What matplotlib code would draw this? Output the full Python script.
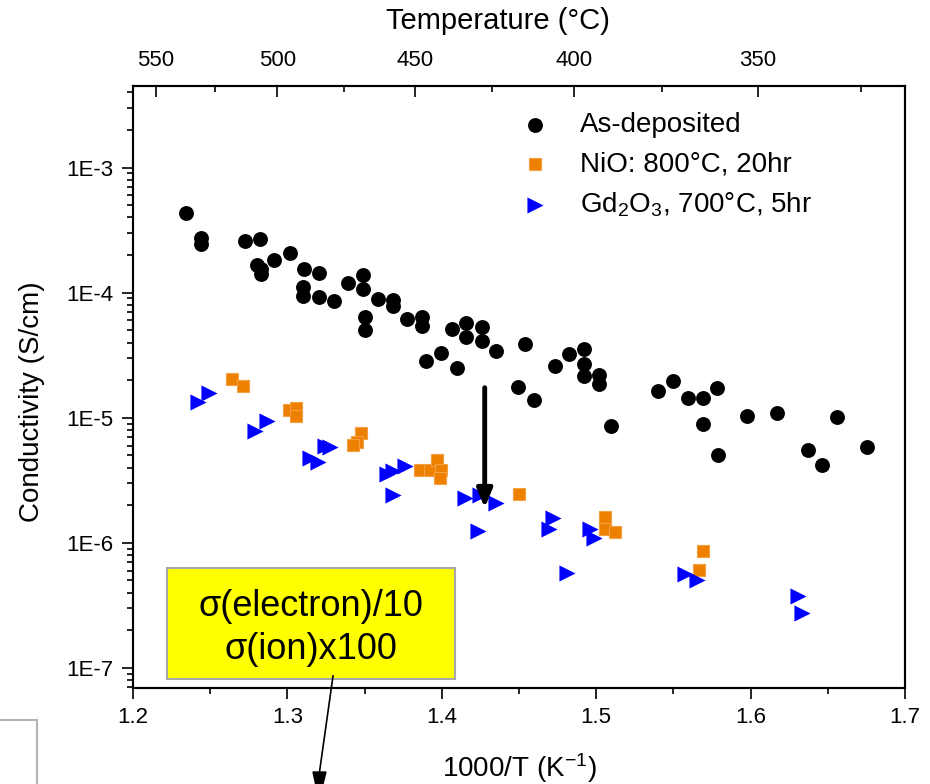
import numpy as np
import matplotlib
matplotlib.use("Agg")
import matplotlib.pyplot as plt
from matplotlib.patches import Rectangle
from matplotlib.ticker import FixedLocator, FuncFormatter, LogLocator, NullFormatter

plt.rcParams["font.family"] = ["Liberation Sans", "DejaVu Sans"]
plt.rcParams["mathtext.fontset"] = "custom"
plt.rcParams["mathtext.rm"] = "Liberation Sans"
plt.rcParams["mathtext.it"] = "Liberation Sans:italic"
plt.rcParams["mathtext.default"] = "regular"

# 1000/T (1/K) and conductivity (S/cm)
asdep_x = [1.2343, 1.2438, 1.2438, 1.2725, 1.2824, 1.2801, 1.2826, 1.2826, 1.2915, 1.3014,
           1.3107, 1.3204, 1.3102, 1.3102, 1.3204, 1.3299, 1.3394, 1.3491, 1.3491, 1.3584,
           1.3681, 1.3681, 1.3502, 1.3502, 1.3775, 1.3871, 1.3871, 1.3896, 1.3998, 1.4063,
           1.4160, 1.4160, 1.4099, 1.4263, 1.4263, 1.4350, 1.4537, 1.4496, 1.4595, 1.4731,
           1.4824, 1.4921, 1.4921, 1.4921, 1.5016, 1.5016, 1.5094, 1.5403, 1.5497, 1.5592,
           1.5689, 1.5689, 1.5784, 1.5791, 1.5979, 1.6170, 1.6369, 1.6462, 1.6559, 1.6753]
asdep_y = [4.31e-4, 2.74e-4, 2.47e-4, 2.57e-4, 2.69e-4, 1.68e-4, 1.55e-4, 1.40e-4, 1.83e-4, 2.08e-4,
           1.55e-4, 1.45e-4, 1.12e-4, 9.34e-5, 9.29e-5, 8.63e-5, 1.20e-4, 1.39e-4, 1.08e-4, 8.84e-5,
           8.68e-5, 7.87e-5, 6.40e-5, 5.06e-5, 6.19e-5, 6.34e-5, 5.47e-5, 2.82e-5, 3.27e-5, 5.09e-5,
           5.78e-5, 4.42e-5, 2.50e-5, 5.32e-5, 4.15e-5, 3.39e-5, 3.89e-5, 1.75e-5, 1.39e-5, 2.61e-5,
           3.23e-5, 3.56e-5, 2.70e-5, 2.17e-5, 2.21e-5, 1.87e-5, 8.52e-6, 1.64e-5, 1.98e-5, 1.45e-5,
           1.44e-5, 9.00e-6, 1.74e-5, 5.06e-6, 1.04e-5, 1.10e-5, 5.55e-6, 4.21e-6, 1.02e-5, 5.89e-6]

nio_x = [1.2639, 1.2710, 1.3010, 1.3055, 1.3055, 1.3474, 1.3448, 1.3426, 1.3858, 1.3922,
         1.3966, 1.3998, 1.3987, 1.4498, 1.5055, 1.5055, 1.5124, 1.5689, 1.5663]
nio_y = [2.04e-5, 1.78e-5, 1.16e-5, 1.20e-5, 1.04e-5, 7.55e-6, 6.46e-6, 6.08e-6, 3.84e-6, 3.84e-6,
         4.61e-6, 3.84e-6, 3.30e-6, 2.47e-6, 1.62e-6, 1.29e-6, 1.21e-6, 8.59e-7, 6.05e-7]

gdo_x = [1.2423, 1.2494, 1.2790, 1.2865, 1.3146, 1.3199, 1.3243, 1.3275, 1.3642, 1.3685,
         1.3760, 1.3681, 1.4149, 1.4246, 1.4348, 1.4235, 1.4720, 1.4693, 1.4958, 1.4986,
         1.4814, 1.5573, 1.5655, 1.6306, 1.6334]
gdo_y = [1.33e-5, 1.58e-5, 7.91e-6, 9.46e-6, 4.76e-6, 4.47e-6, 5.97e-6, 5.83e-6, 3.55e-6, 3.72e-6,
         4.08e-6, 2.42e-6, 2.28e-6, 2.42e-6, 2.08e-6, 1.25e-6, 1.58e-6, 1.29e-6, 1.29e-6, 1.09e-6,
         5.72e-7, 5.65e-7, 5.06e-7, 3.79e-7, 2.77e-7]

temp_major = [550, 500, 450, 400, 350]
temp_minor = [525, 475, 425, 375, 325]

fig = plt.figure(figsize=(9.3, 7.84), dpi=100)
ax = fig.add_axes([0.1430, 0.1224, 0.8301, 0.7679])

ax.scatter(asdep_x, asdep_y, s=115, marker="o", color="black", linewidths=0,
           label="As-deposited", zorder=3)
ax.scatter(nio_x, nio_y, s=75, marker="s", color="#EE8000", edgecolors="#F5A040",
           linewidths=0.8, label="NiO: 800°C, 20hr", zorder=3)
ax.scatter(gdo_x, gdo_y, s=135, marker=">", color="#0000FF", linewidths=0,
           label="Gd$_2$O$_3$, 700°C, 5hr", zorder=3)

ax.set_xlim(1.2, 1.7)
ax.set_yscale("log")
ax.set_ylim(6.9e-8, 4.5e-3)

ax.set_xticks([1.2, 1.3, 1.4, 1.5, 1.6, 1.7])
ax.set_xticks([1.25, 1.35, 1.45, 1.55, 1.65], minor=True)
ax.xaxis.set_major_formatter(FuncFormatter(lambda v, p: f"{v:.1f}"))
ax.yaxis.set_major_locator(FixedLocator([1e-7, 1e-6, 1e-5, 1e-4, 1e-3]))
ax.yaxis.set_major_formatter(FuncFormatter(lambda v, p: f"1E{int(round(np.log10(v)))}"))
ax.yaxis.set_minor_locator(LogLocator(base=10, subs=np.arange(2, 10), numticks=20))
ax.yaxis.set_minor_formatter(NullFormatter())

ax.tick_params(which="both", direction="out", top=False, right=False, width=1.2,
               labelsize=16, colors="black")
ax.tick_params(which="major", length=8, pad=6)
ax.tick_params(which="minor", length=4.5)
for sp in ax.spines.values():
    sp.set_linewidth(1.5)

ax.set_xlabel("1000/T (K$^{-1}$)", fontsize=20)
ax.xaxis.set_label_coords(0.5, -0.105)
ax.set_ylabel("Conductivity (S/cm)", fontsize=20)
ax.yaxis.set_label_coords(-0.114, 0.475)

# temperature axis on top
top = ax.twiny()
top.set_xlim(ax.get_xlim())
top.set_xticks([1000 / (t + 273.15) for t in temp_major])
top.set_xticklabels([str(t) for t in temp_major])
top.set_xticks([1000 / (t + 273.15) for t in temp_minor], minor=True)
top.tick_params(which="both", direction="in", width=1.2, labelsize=16)
top.tick_params(which="major", length=8, pad=11)
top.tick_params(which="minor", length=4.5)
top.set_xlabel("Temperature (°C)", fontsize=21)
top.xaxis.set_label_coords(0.473, 1.094)
for sp in top.spines.values():
    sp.set_linewidth(1.5)

leg = ax.legend(loc="upper left", bbox_to_anchor=(0.485, 0.975), frameon=False,
                fontsize=20, labelspacing=0.47, handletextpad=1.0, handlelength=1.2,
                borderaxespad=0)

# arrow showing the drop of the as-deposited conductivity
ax.annotate("", xy=(1.4278, 1.9e-6), xytext=(1.4278, 1.74e-5),
            arrowprops=dict(arrowstyle="-|>,head_width=0.45,head_length=1.1",
                            color="black", lw=3.5, shrinkA=0, shrinkB=0))

# yellow note box
ax.add_patch(Rectangle((0.044, 0.015), 0.373, 0.184, transform=ax.transAxes,
                       facecolor="#FFFF00", edgecolor="#A8A8A8", lw=1.5, zorder=4))
ax.text(0.2305, 0.136, "σ(electron)/10", transform=ax.transAxes, fontsize=26,
        ha="center", va="center", zorder=5)
ax.text(0.2305, 0.064, "σ(ion)x100", transform=ax.transAxes, fontsize=26,
        ha="center", va="center", zorder=5)

fig.add_artist(plt.Line2D([333 / 930, 319.5 / 930], [1 - 676 / 784, 1 - 772 / 784],
                          color="black", lw=1.2, transform=fig.transFigure))
fig.patches.append(plt.Polygon([[313 / 930, 1 - 772 / 784], [326 / 930, 1 - 772 / 784],
                                [319 / 930, -0.02]], closed=True, color="black",
                               transform=fig.transFigure, figure=fig))

# partial frame in the lower-left corner
fig.patches.append(Rectangle((-0.01, -0.01), 37 / 930 + 0.01, 1 - 720 / 784 + 0.01,
                             transform=fig.transFigure, figure=fig, fill=False,
                             edgecolor="#B4B4B4", lw=1.5))

fig.savefig("out.png", dpi=100)
